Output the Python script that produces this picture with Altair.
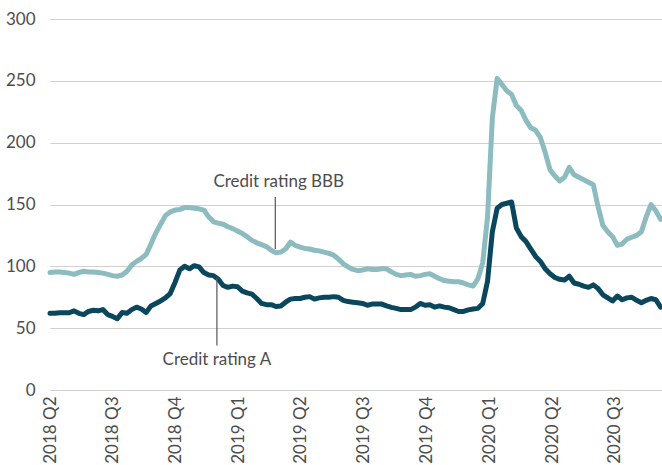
import altair as alt
import pandas as pd

# Weekly observations, starting the first week of 2018 Q2
start_date = "2018-04-01"
n_weeks = 128
week_dates = pd.date_range(start_date, periods=n_weeks, freq="7D").strftime("%Y-%m-%d").tolist()

# Spread, credit rating BBB
bbb = [
    95, 95.5, 95.5, 95, 94.5, 93.5, 95, 96, 95.5, 95.5,
    95, 94.5, 93.5, 92.5, 92, 93, 96, 101, 104, 106.5,
    109.5, 118, 127, 134, 141, 144, 145.5, 146, 147.5, 147.5,
    147, 146.5, 145.5, 140, 136, 135, 134, 132, 130.5, 128.5,
    126.5, 124, 121, 119, 117.5, 116, 113, 111, 111.5, 114,
    119.5, 117, 115.5, 114.5, 114, 113, 112.5, 111.5, 110.5, 109,
    106, 102, 99.5, 97.5, 96.5, 97, 98, 97.5, 97.5, 98,
    98, 95.5, 93.5, 92.5, 93, 93.5, 92, 92.5, 93.5, 94,
    92, 90, 88.5, 88, 87.5, 87.5, 86.5, 85, 84, 90,
    103, 140, 220, 252, 247, 242, 239, 230, 226, 218,
    212, 210, 204, 192, 178, 173, 169, 172, 180, 174,
    172, 170, 168, 166, 148, 133, 128, 124, 117, 118,
    122, 123.5, 125, 128, 140, 150, 145, 138,
]

# Spread, credit rating A
rating_a = [
    62, 62, 62.5, 62.5, 62.5, 64, 62, 61, 63.5, 64.5,
    64, 65, 61, 59.5, 57.7, 62.6, 62, 65, 67, 65.5,
    62.6, 68, 70, 72, 74.5, 78, 87, 97, 100, 98,
    100.5, 99.5, 95, 93, 92.5, 89.5, 84.5, 83, 84, 83.5,
    80, 78.5, 77.5, 74, 70, 69, 69, 67.5, 68, 71,
    73.5, 74, 74, 75, 75.5, 73.5, 74.5, 75, 75, 75.5,
    75, 72.5, 71.5, 71, 70.5, 70, 68.5, 69.5, 69.5, 69.5,
    68, 66.8, 66, 65, 65, 65, 67, 70, 68.5, 69,
    67, 68, 67, 66.5, 65, 63.5, 63.5, 64.8, 65.5, 66,
    70, 88, 128, 147, 150, 151, 152, 131, 124, 120,
    114, 108, 104, 98, 94, 91, 89.5, 89, 92, 86.5,
    85.5, 84, 83, 85, 82, 77, 74.5, 72, 76, 73,
    74.5, 75, 72.5, 70.5, 72.5, 74, 73, 67,
]

series_names = ["Credit rating BBB", "Credit rating A"]
series_colors = ["#8dbcc0", "#0a475d"]

# Annotation callouts: label text, leader line position and extent
label_texts = ["Credit rating BBB", "Credit rating A"]
label_dates = ["2019-02-28", "2018-11-30"]
label_values = [168, 24]
leader_dates = ["2019-02-23", "2018-11-30"]
leader_top = [156, 91]
leader_bottom = [114, 36]

quarter_ticks = [
    alt.DateTime(year=y, month=m, date=1, utc=True)
    for y, m in [(2018, 4), (2018, 7), (2018, 10), (2019, 1), (2019, 4),
                 (2019, 7), (2019, 10), (2020, 1), (2020, 4), (2020, 7)]
]
y_ticks = [0, 50, 100, 150, 200, 250, 300]

lines_df = pd.DataFrame({
    "date": week_dates * 2,
    "spread": bbb + rating_a,
    "series": [series_names[0]] * n_weeks + [series_names[1]] * n_weeks,
})
labels_df = pd.DataFrame({"date": label_dates, "value": label_values, "text": label_texts})
leaders_df = pd.DataFrame({"date": leader_dates, "top": leader_top, "bottom": leader_bottom})

font = "Lato"
text_color = "#4d4d4d"

x_scale = alt.Scale(
    type="utc",
    domain=[alt.DateTime(year=2018, month=4, date=1, utc=True),
            alt.DateTime(year=2020, month=9, date=8, utc=True)],
    nice=False,
)
y_scale = alt.Scale(domain=[0, 300], nice=False)

x_axis = alt.Axis(
    values=quarter_ticks,
    labelExpr="utcFormat(datum.value, '%Y') + ' Q' + (floor(utcmonth(datum.value) / 3) + 1)",
    labelAngle=270,
    labelFont=font,
    labelFontSize=17,
    labelColor=text_color,
    labelPadding=6,
    grid=False,
    domain=False,
    ticks=False,
    title=None,
)
y_axis = alt.Axis(
    values=y_ticks,
    labelFont=font,
    labelFontSize=17,
    labelColor=text_color,
    labelPadding=15,
    grid=True,
    gridColor="#d0d0d0",
    gridWidth=1.2,
    domain=False,
    ticks=False,
    title=None,
)

lines = alt.Chart(lines_df).mark_line(strokeWidth=5, strokeJoin="round", strokeCap="round").encode(
    x=alt.X("date:T", scale=x_scale, axis=x_axis),
    y=alt.Y("spread:Q", scale=y_scale, axis=y_axis),
    color=alt.Color("series:N", scale=alt.Scale(domain=series_names, range=series_colors), legend=None),
    detail="series:N",
)

leaders = alt.Chart(leaders_df).mark_rule(color="#555555", strokeWidth=1.2).encode(
    x=alt.X("date:T", scale=x_scale),
    y=alt.Y("top:Q", scale=y_scale),
    y2="bottom:Q",
)

labels = alt.Chart(labels_df).mark_text(
    font=font, fontSize=17, color=text_color, align="center", baseline="middle"
).encode(
    x=alt.X("date:T", scale=x_scale),
    y=alt.Y("value:Q", scale=y_scale),
    text="text:N",
)

chart = alt.layer(lines, leaders, labels).properties(
    width=612,
    height=371,
    autosize=alt.AutoSizeParams(type="none"),
    padding={"left": 50, "top": 19, "right": 0, "bottom": 75},
    background="white",
).configure_view(stroke=None)

chart.save("out.html", embed_options={"renderer": "svg", "actions": False})
